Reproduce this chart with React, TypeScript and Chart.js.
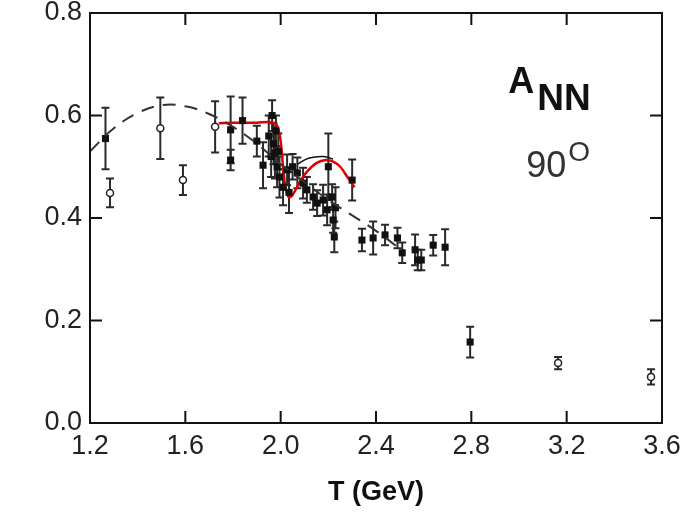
import React, { useEffect, useRef } from "react";
import { Chart, registerables } from "chart.js";

Chart.register(...registerables);

// Axis ticks
const xTicks = [1.2, 1.6, 2.0, 2.4, 2.8, 3.2, 3.6];
const yTicks = [0.0, 0.2, 0.4, 0.6, 0.8];

// Filled-square data: T (GeV), A_NN, error
const filledT = [1.265, 1.79, 1.79, 1.84, 1.9, 1.926, 1.95, 1.96, 1.964, 1.97, 1.976, 1.98, 1.985, 1.99, 1.995, 2.01, 2.027, 2.035, 2.05, 2.07, 2.094, 2.11, 2.136, 2.153, 2.178, 2.195, 2.2, 2.216, 2.22, 2.225, 2.23, 2.3, 2.341, 2.388, 2.438, 2.49, 2.51, 2.564, 2.575, 2.59, 2.64, 2.69, 2.795];
const filledA = [0.555, 0.572, 0.513, 0.59, 0.55, 0.503, 0.56, 0.52, 0.6, 0.545, 0.527, 0.57, 0.5, 0.53, 0.48, 0.46, 0.494, 0.45, 0.5, 0.488, 0.468, 0.455, 0.441, 0.429, 0.435, 0.416, 0.5, 0.441, 0.396, 0.363, 0.42, 0.474, 0.357, 0.361, 0.367, 0.361, 0.332, 0.338, 0.318, 0.318, 0.347, 0.343, 0.158];
const filledErr = [0.06, 0.065, 0.02, 0.045, 0.03, 0.045, 0.04, 0.04, 0.03, 0.04, 0.05, 0.03, 0.04, 0.035, 0.04, 0.035, 0.03, 0.04, 0.025, 0.03, 0.03, 0.025, 0.025, 0.025, 0.03, 0.03, 0.065, 0.025, 0.025, 0.03, 0.04, 0.04, 0.022, 0.032, 0.02, 0.02, 0.02, 0.03, 0.02, 0.02, 0.02, 0.035, 0.03];

// Open-circle data
const openT = [1.284, 1.495, 1.59, 1.725, 3.164, 3.554];
const openA = [0.449, 0.575, 0.474, 0.578, 0.117, 0.09];
const openErr = [0.028, 0.06, 0.029, 0.05, 0.012, 0.015];

// Dashed fit curve
const fitT = [1.2, 1.3, 1.4, 1.5, 1.6, 1.7, 1.8, 1.9, 2.0, 2.1, 2.2, 2.3, 2.4, 2.5];
const fitA = [0.53, 0.575, 0.605, 0.62, 0.618, 0.603, 0.578, 0.545, 0.505, 0.47, 0.435, 0.405, 0.375, 0.34];

// Black solid curve segment
const blackT = [2.07, 2.12, 2.18, 2.22];
const blackA = [0.505, 0.517, 0.52, 0.515];

// Red curve
const redT = [1.74, 1.8, 1.9, 1.96, 1.985, 2.0, 2.01, 2.02, 2.035, 2.05, 2.08, 2.11, 2.15, 2.19, 2.22, 2.25, 2.28, 2.31];
const redA = [0.585, 0.586, 0.586, 0.587, 0.58, 0.55, 0.5, 0.46, 0.44, 0.445, 0.47, 0.49, 0.507, 0.513, 0.51, 0.5, 0.48, 0.46];

const FONT = "'Liberation Sans', Arial, Helvetica, sans-serif";
const TEXT = "#222";

const pts = (xs: number[], ys: number[]) => xs.map((x, i) => ({ x, y: ys[i] }));

const errorBarPlugin = {
  id: "errorBars",
  beforeDatasetsDraw(chart: any) {
    const { ctx, scales } = chart;
    const xs = scales.x, ys = scales.y;
    ctx.save();
    ctx.strokeStyle = "#2a2a2a";
    ctx.lineWidth = 2;
    chart.data.datasets.forEach((ds: any) => {
      if (!ds.errors) return;
      ds.data.forEach((p: any, j: number) => {
        const e = ds.errors[j];
        const px = xs.getPixelForValue(p.x);
        const y1 = ys.getPixelForValue(p.y + e);
        const y2 = ys.getPixelForValue(p.y - e);
        ctx.beginPath();
        ctx.moveTo(px, y1);
        ctx.lineTo(px, y2);
        ctx.moveTo(px - 4, y1);
        ctx.lineTo(px + 4, y1);
        ctx.moveTo(px - 4, y2);
        ctx.lineTo(px + 4, y2);
        ctx.stroke();
      });
    });
    ctx.restore();
  },
};

const framePlugin = {
  id: "frame",
  afterDraw(chart: any) {
    const { ctx, chartArea: a, scales } = chart;
    ctx.save();
    ctx.strokeStyle = "#111";
    ctx.lineWidth = 2;
    ctx.strokeRect(a.left, a.top, a.right - a.left, a.bottom - a.top);
    const tl = 12;
    ctx.beginPath();
    xTicks.forEach((v) => {
      const px = scales.x.getPixelForValue(v);
      ctx.moveTo(px, a.bottom);
      ctx.lineTo(px, a.bottom - tl);
      ctx.moveTo(px, a.top);
      ctx.lineTo(px, a.top + tl);
    });
    yTicks.forEach((v) => {
      const py = scales.y.getPixelForValue(v);
      ctx.moveTo(a.left, py);
      ctx.lineTo(a.left + tl, py);
      ctx.moveTo(a.right, py);
      ctx.lineTo(a.right - tl, py);
    });
    ctx.stroke();

    // Annotations anchored in data coordinates
    const X = (v: number) => scales.x.getPixelForValue(v);
    const Y = (v: number) => scales.y.getPixelForValue(v);
    ctx.fillStyle = "#111";
    ctx.textBaseline = "alphabetic";
    ctx.textAlign = "left";
    ctx.font = `bold 36px ${FONT}`;
    ctx.fillText("A", X(2.955), Y(0.644));
    const aw = ctx.measureText("A").width;
    ctx.font = `bold 37px ${FONT}`;
    ctx.fillText("NN", X(2.955) + aw + 3, Y(0.61));
    ctx.fillStyle = "#333";
    ctx.font = `36px ${FONT}`;
    ctx.fillText("90", X(3.03), Y(0.48));
    const nw = ctx.measureText("90").width;
    ctx.font = `28px ${FONT}`;
    ctx.fillText("O", X(3.03) + nw + 2, Y(0.512));
    ctx.restore();
  },
};

export default function App() {
  const ref = useRef<HTMLCanvasElement>(null);
  useEffect(() => {
    if (!ref.current) return;
    const chart = new Chart(ref.current, {
      type: "scatter",
      data: {
        datasets: [
          {
            label: "fit",
            data: pts(fitT, fitA),
            showLine: true,
            borderColor: "#333",
            borderWidth: 2,
            borderDash: [13, 9],
            pointRadius: 0,
            tension: 0.4,
          },
          {
            label: "black",
            data: pts(blackT, blackA),
            showLine: true,
            borderColor: "#111",
            borderWidth: 1.5,
            pointRadius: 0,
            tension: 0.4,
          },
          {
            label: "filled",
            data: pts(filledT, filledA),
            errors: filledErr,
            pointStyle: "rect",
            pointRadius: 5,
            backgroundColor: "#111",
            borderColor: "#111",
            borderWidth: 0,
          } as any,
          {
            label: "open",
            data: pts(openT, openA),
            errors: openErr,
            pointStyle: "circle",
            pointRadius: 3.5,
            backgroundColor: "#fff",
            borderColor: "#222",
            borderWidth: 1.5,
          } as any,
          {
            label: "red",
            data: pts(redT, redA),
            showLine: true,
            borderColor: "#e00000",
            borderWidth: 2.5,
            pointRadius: 0,
            tension: 0.3,
          },
        ],
      },
      options: {
        animation: false,
        responsive: false,
        layout: { padding: { top: 13, right: 30, left: 0, bottom: 0 } },
        plugins: { legend: { display: false }, tooltip: { enabled: false } },
        scales: {
          x: {
            type: "linear",
            min: 1.2,
            max: 3.6,
            afterBuildTicks: (s: any) => {
              s.ticks = xTicks.map((v) => ({ value: v }));
            },
            afterFit: (s: any) => {
              s.height = 96;
              s.paddingLeft = 0;
              s.paddingRight = 0;
            },
            grid: { display: false, drawTicks: false },
            border: { display: false },
            ticks: {
              padding: 7,
              color: TEXT,
              font: { family: FONT, size: 27 },
              callback: (v: any) => Number(v).toFixed(1),
              maxRotation: 0,
              autoSkip: false,
            },
            title: {
              display: true,
              text: "T (GeV)",
              color: "#111",
              font: { family: FONT, size: 27, weight: "bold" },
              padding: { top: 0, bottom: 10 },
            },
          },
          y: {
            type: "linear",
            min: 0,
            max: 0.8,
            afterBuildTicks: (s: any) => {
              s.ticks = yTicks.map((v) => ({ value: v }));
            },
            afterFit: (s: any) => {
              s.width = 90;
              s.paddingTop = 0;
              s.paddingBottom = 0;
            },
            grid: { display: false, drawTicks: false },
            border: { display: false },
            ticks: {
              padding: 8,
              color: TEXT,
              font: { family: FONT, size: 27 },
              callback: (v: any) => Number(v).toFixed(1),
              autoSkip: false,
            },
          },
        },
      },
      plugins: [errorBarPlugin, framePlugin],
    } as any);
    return () => chart.destroy();
  }, []);
  return (
    <div style={{ position: "absolute", left: 0, top: 0, width: 692, height: 519, background: "#fff" }}>
      <canvas ref={ref} width={692} height={519} />
    </div>
  );
}
